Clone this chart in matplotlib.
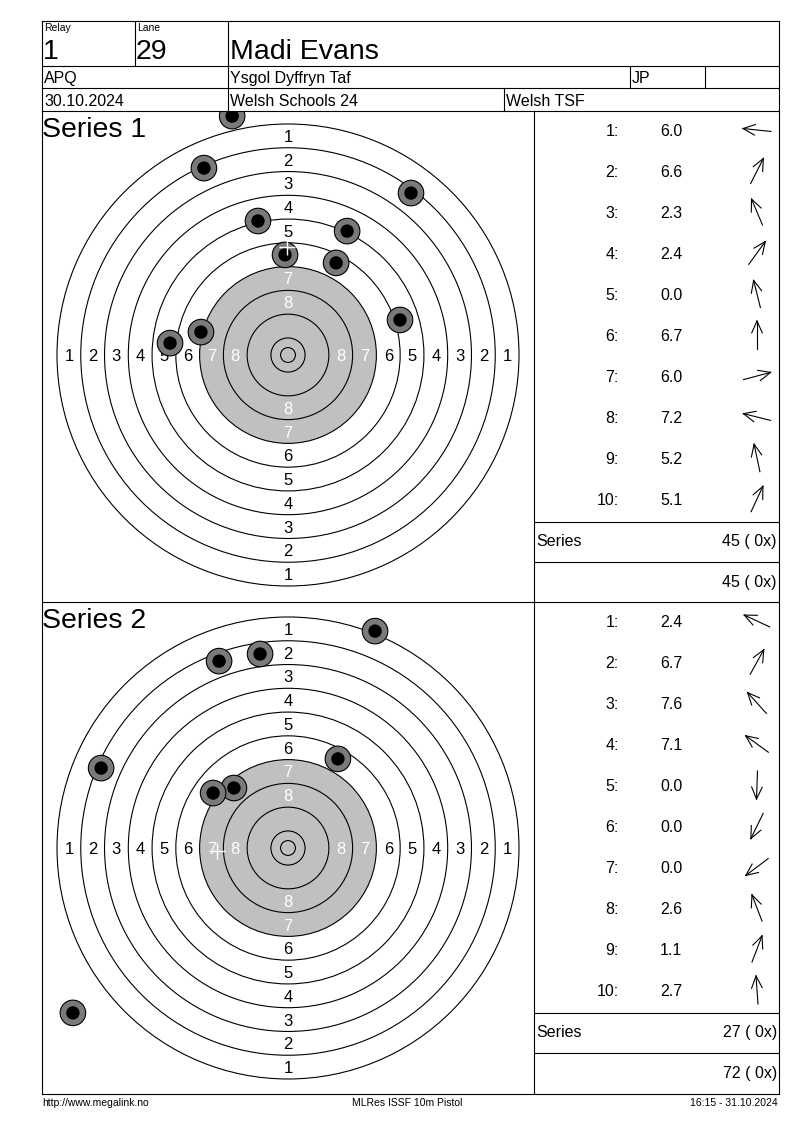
import numpy as np
import matplotlib
matplotlib.use("Agg")
import matplotlib.pyplot as plt
from matplotlib.patches import Circle

plt.rcParams['font.family'] = ['Liberation Sans', 'DejaVu Sans']

# header
relay = "1"
lane = "29"
shooter = "Madi Evans"
klass = "APQ"
club = "Ysgol Dyffryn Taf"
initials = "JP"
date = "30.10.2024"
competition = "Welsh Schools 24"
organizer = "Welsh TSF"

# shots, mm from target centre (nan = outside the drawn area)
s1_x = [-39.7, 16.2, -28.3, 41.4, -18.8, -1.0, 37.7, -29.3, -10.1, 19.9]
s1_y = [4.0, 31.0, 62.9, 54.5, 80.4, 33.7, 11.8, 7.7, 45.1, 41.7]
s1_scores = ["6.0", "6.6", "2.3", "2.4", "0.0", "6.7", "6.0", "7.2", "5.2", "5.1"]
s1_dir = [174, 63, 113, 54, 104, 90, 15, 166, 102, 65]
s1_mpi = (-0.3, 36.4)

s2_x = [-62.9, 16.8, -18.2, -25.2, np.nan, np.nan, -72.4, -23.2, 29.3, -9.4]
s2_y = [26.9, 30.0, 20.2, 18.5, np.nan, np.nan, -55.5, 62.9, 73.0, 65.3]
s2_scores = ["2.4", "6.7", "7.6", "7.1", "0.0", "0.0", "0.0", "2.6", "1.1", "2.7"]
s2_dir = [155, 61, 132, 144, 268, 244, 217, 111, 69, 94]
s2_mpi = (-23.9, -1.0)

series_names = ["Series 1", "Series 2"]
series_sum = ["45 ( 0x)", "27 ( 0x)"]
running_sum = ["45 ( 0x)", "72 ( 0x)"]

footer_left = "http://www.megalink.no"
footer_mid = "MLRes ISSF 10m Pistol"
footer_right = "16:15 - 31.10.2024"

# ISSF 10m pistol target
ring_r = [5.75 + 8 * (10 - n) for n in range(1, 11)]   # ring 1..10
inner_ten = 2.5
black_r = ring_r[6]
PX = 231 / 77.75   # pixels per mm

W, H = 800, 1130
fig = plt.figure(figsize=(8, 11.3), dpi=100)
fig.patch.set_facecolor('white')

bg = fig.add_axes([0, 0, 1, 1])
bg.set_xlim(0, W)
bg.set_ylim(H, 0)
bg.axis('off')
bg.patch.set_visible(False)
bg.set_zorder(5)

L, R, MID = 42, 779, 534
lw = 0.8


def hline(y, x0=L, x1=R):
    bg.plot([x0, x1], [y, y], color='black', lw=lw, solid_capstyle='projecting')


def vline(x, y0, y1):
    bg.plot([x, x], [y0, y1], color='black', lw=lw, solid_capstyle='projecting')


# header grid
for y in [21, 66, 88, 111, 602, 1094]:
    hline(y)
vline(L, 21, 1094)
vline(R, 21, 1094)
vline(135, 21, 66)
vline(228, 21, 111)
vline(630, 66, 88)
vline(705, 66, 88)
vline(504, 88, 111)
vline(MID, 111, 1094)

big, med, small = 20.5, 11.5, 7.5
bg.text(44, 31, "Relay", fontsize=small, va='baseline')
bg.text(137, 31, "Lane", fontsize=small, va='baseline')
bg.text(43, 59, relay, fontsize=big, va='baseline')
bg.text(136, 59, lane, fontsize=big, va='baseline')
bg.text(230, 59, shooter, fontsize=big, va='baseline')
bg.text(44, 83, klass, fontsize=med, va='baseline')
bg.text(230, 83, club, fontsize=med, va='baseline')
bg.text(632, 83, initials, fontsize=med, va='baseline')
bg.text(44, 106, date, fontsize=med, va='baseline')
bg.text(230, 106, competition, fontsize=med, va='baseline')
bg.text(506, 106, organizer, fontsize=med, va='baseline')

panels = [
    (111, 602, 355, s1_x, s1_y, s1_scores, s1_dir, s1_mpi),
    (602, 1094, 848, s2_x, s2_y, s2_scores, s2_dir, s2_mpi),
]
cx = 288

for k, (top, bot, cy, xs, ys, scores, dirs, mpi) in enumerate(panels):
    ax = fig.add_axes([L / W, 1 - bot / H, (MID - L) / W, (bot - top) / H])
    ax.set_xlim(-(cx - L) / PX, (MID - cx) / PX)
    ax.set_ylim(-(bot - cy) / PX, (cy - top) / PX)
    ax.axis('off')

    ax.add_patch(Circle((0, 0), black_r, facecolor='#c0c0c0', edgecolor='none', zorder=1))
    for r in ring_r + [inner_ten]:
        ax.add_patch(Circle((0, 0), r, fill=False, edgecolor='black', lw=lw, zorder=2))
    for n in range(1, 9):
        m = ring_r[n - 1] - 4
        col = 'black' if n <= 6 else 'white'
        for px_, py_ in [(0, m), (0, -m), (-m, 0), (m, 0)]:
            ax.text(px_, py_, str(n), color=col, fontsize=12, ha='center',
                    va='center_baseline', zorder=3)

    for x, y in zip(xs, ys):
        if np.isnan(x):
            continue
        ax.add_patch(Circle((x, y), 4.3, facecolor='#7a7a7a', edgecolor='black', lw=0.8, zorder=4))
        ax.add_patch(Circle((x, y), 2.25, facecolor='black', edgecolor='none', zorder=5))
    ax.plot(mpi[0], mpi[1], marker='+', color='white', markersize=12, mew=1, zorder=6)

    bg.text(42, top + 26, series_names[k], fontsize=big, va='baseline')

    # shot list
    for i, (sc, ang) in enumerate(zip(scores, dirs)):
        yc = top + 19 + 41 * i
        bg.text(619, yc + 6, f"{i + 1}:", fontsize=med, ha='right', va='baseline')
        bg.text(660, yc + 6, sc, fontsize=med, ha='left', va='baseline')
        a = np.radians(ang)
        d = np.array([np.cos(a), -np.sin(a)])
        c = np.array([757, yc])
        tail, tip = c - d * 14, c + d * 14
        bg.plot([tail[0], tip[0]], [tail[1], tip[1]], color='black', lw=0.8)
        for s in (1, -1):
            b = a + np.pi + s * np.radians(24)
            hd = np.array([np.cos(b), -np.sin(b)]) * 13
            bg.plot([tip[0], tip[0] + hd[0]], [tip[1], tip[1] + hd[1]], color='black', lw=0.8)

    y1 = top + 411
    y2 = top + 451
    hline(y1, MID, R)
    hline(y2, MID, R)
    bg.text(536, y1 + 24, "Series", fontsize=med, va='baseline')
    bg.text(777, y1 + 24, series_sum[k], fontsize=med, ha='right', va='baseline')
    bg.text(777, y2 + 25, running_sum[k], fontsize=med, ha='right', va='baseline')

bg.text(42, 1106, footer_left, fontsize=small, va='baseline')
bg.text(407, 1106, footer_mid, fontsize=small, ha='center', va='baseline')
bg.text(778, 1106, footer_right, fontsize=small, ha='right', va='baseline')

fig.savefig("out.png", dpi=100, facecolor='white')
